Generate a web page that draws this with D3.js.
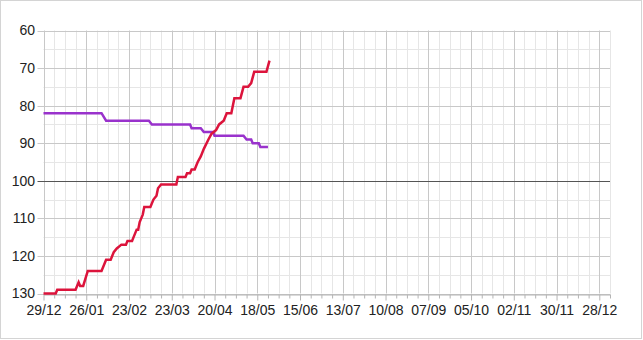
<!DOCTYPE html>
<html>
<head>
<meta charset="utf-8">
<script src="https://cdn.jsdelivr.net/npm/d3@7"></script>
<style>
  body { margin: 0; background: #fff; }
  text { font-family: 'Liberation Sans', Arial, sans-serif; }
</style>
</head>
<body>
<svg width="643" height="340"></svg>
<script>
// breakpoints of the two series (daily values, flat runs left out)
const redDates = ['2014-12-29', '2015-01-06', '2015-01-07', '2015-01-19', '2015-01-21',
  '2015-01-22', '2015-01-24', '2015-01-27', '2015-02-05', '2015-02-08', '2015-02-11',
  '2015-02-13', '2015-02-15', '2015-02-18', '2015-02-21', '2015-02-22', '2015-02-25',
  '2015-02-26', '2015-02-27', '2015-02-28', '2015-03-01', '2015-03-02', '2015-03-03',
  '2015-03-04', '2015-03-05', '2015-03-09', '2015-03-11',
  '2015-03-13', '2015-03-14', '2015-03-16', '2015-03-26', '2015-03-27', '2015-04-01',
  '2015-04-02', '2015-04-04', '2015-04-05', '2015-04-07', '2015-04-08', '2015-04-09',
  '2015-04-11', '2015-04-13',
  '2015-04-16', '2015-04-18', '2015-04-21', '2015-04-23', '2015-04-26', '2015-04-28',
  '2015-05-01', '2015-05-03', '2015-05-07', '2015-05-09', '2015-05-12', '2015-05-14',
  '2015-05-16', '2015-05-24', '2015-05-26'];
const redValues = [130, 130, 129, 129, 127,
  128, 128, 124, 124, 121, 121,
  119, 118, 117, 117, 116, 116,
  115, 114, 113, 113, 111, 110,
  109, 107, 107, 105,
  104, 102, 101, 101, 99, 99,
  98, 98, 97, 97, 96, 95,
  93.5, 91.5,
  89, 87.5, 86.5, 85, 84, 82,
  82, 78, 78, 75, 75, 74,
  71, 71, 68];

const purpleDates = ['2014-12-29', '2015-02-05', '2015-02-08', '2015-03-08', '2015-03-10',
  '2015-04-04', '2015-04-05', '2015-04-11', '2015-04-13', '2015-04-19', '2015-04-20',
  '2015-05-09', '2015-05-11', '2015-05-14', '2015-05-15', '2015-05-19', '2015-05-20',
  '2015-05-25'];
const purpleValues = [82, 82, 84, 84, 85,
  85, 86, 86, 87, 87, 88,
  88, 89, 89, 90, 90, 91,
  91];

const yTicks = [60, 70, 80, 90, 100, 110, 120, 130];
const yMinor = [65, 75, 85, 95, 105, 115, 125];
const startDate = '2014-12-29';
const endDate = '2016-01-04';

const parse = d3.timeParse('%Y-%m-%d');
const svg = d3.select('svg');

const x = d3.scaleTime()
    .domain([parse(startDate), parse(endDate)])
    .range([43.5, 610]);
const y = d3.scaleLinear()
    .domain([60, 130])
    .range([30.5, 293.5]);

const weeks = d3.timeDay.range(parse(startDate), d3.timeDay.offset(parse(endDate), 1), 7);
const majors = weeks.filter((d, i) => i % 4 === 0);
const minors = weeks.filter((d, i) => i % 4 !== 0);

// outer frame
svg.append('rect')
    .attr('x', 0.5).attr('y', 0.5)
    .attr('width', 641).attr('height', 338)
    .attr('fill', 'none')
    .attr('stroke', '#d4d4d4');

const grid = svg.append('g');

grid.selectAll('line.vminor')
    .data(minors).enter()
    .append('line')
    .attr('x1', (d) => Math.round(x(d)) + 0.5)
    .attr('x2', (d) => Math.round(x(d)) + 0.5)
    .attr('y1', y(60)).attr('y2', y(130))
    .attr('stroke', '#e6e6e6');

grid.selectAll('line.hminor')
    .data(yMinor).enter()
    .append('line')
    .attr('x1', x.range()[0]).attr('x2', x.range()[1])
    .attr('y1', (d) => Math.round(y(d)) + 0.5)
    .attr('y2', (d) => Math.round(y(d)) + 0.5)
    .attr('stroke', '#e6e6e6');

grid.selectAll('line.vmajor')
    .data(majors).enter()
    .append('line')
    .attr('x1', (d) => Math.round(x(d)) + 0.5)
    .attr('x2', (d) => Math.round(x(d)) + 0.5)
    .attr('y1', y(60)).attr('y2', y(130))
    .attr('stroke', '#c8c8c8');

grid.selectAll('line.hmajor')
    .data(yTicks).enter()
    .append('line')
    .attr('x1', x.range()[0] - 6).attr('x2', x.range()[1])
    .attr('y1', (d) => Math.round(y(d)) + 0.5)
    .attr('y2', (d) => Math.round(y(d)) + 0.5)
    .attr('stroke', (d) => d === 100 ? '#555' : '#c8c8c8');

// bottom axis with weekly minor ticks
const bottom = Math.round(y(130)) + 0.5;
svg.append('g')
    .attr('transform', `translate(0,${bottom})`)
    .call(d3.axisBottom(x).tickValues(minors).tickSize(4).tickFormat(''))
    .call((g) => g.select('.domain').remove())
    .call((g) => g.selectAll('line').attr('stroke', '#b4b4b4'));

svg.append('g')
    .attr('transform', `translate(0,${bottom})`)
    .call(d3.axisBottom(x).tickValues(majors).tickSize(6).tickSizeOuter(0)
        .tickFormat(d3.timeFormat('%d/%m')))
    .call((g) => g.select('.domain').attr('stroke', '#b4b4b4'))
    .call((g) => g.selectAll('line').attr('stroke', '#b4b4b4'))
    .call((g) => g.selectAll('text')
        .attr('y', 11)
        .attr('fill', '#222')
        .style('font-size', '14px'));

// y labels
svg.append('g')
    .selectAll('text')
    .data(yTicks).enter()
    .append('text')
    .attr('x', 35)
    .attr('y', (d) => y(d))
    .attr('dy', '0.35em')
    .attr('text-anchor', 'end')
    .attr('fill', '#222')
    .style('font-size', '14px')
    .text((d) => d);

const line = d3.line()
    .x((d) => x(d[0]))
    .y((d) => y(d[1]));

svg.append('path')
    .datum(purpleDates.map((d, i) => [parse(d), purpleValues[i]]))
    .attr('d', line)
    .attr('fill', 'none')
    .attr('stroke', '#9932cc')
    .attr('stroke-width', 2.5);

svg.append('path')
    .datum(redDates.map((d, i) => [parse(d), redValues[i]]))
    .attr('d', line)
    .attr('fill', 'none')
    .attr('stroke', '#dc143c')
    .attr('stroke-width', 2.5);
</script>
</body>
</html>
